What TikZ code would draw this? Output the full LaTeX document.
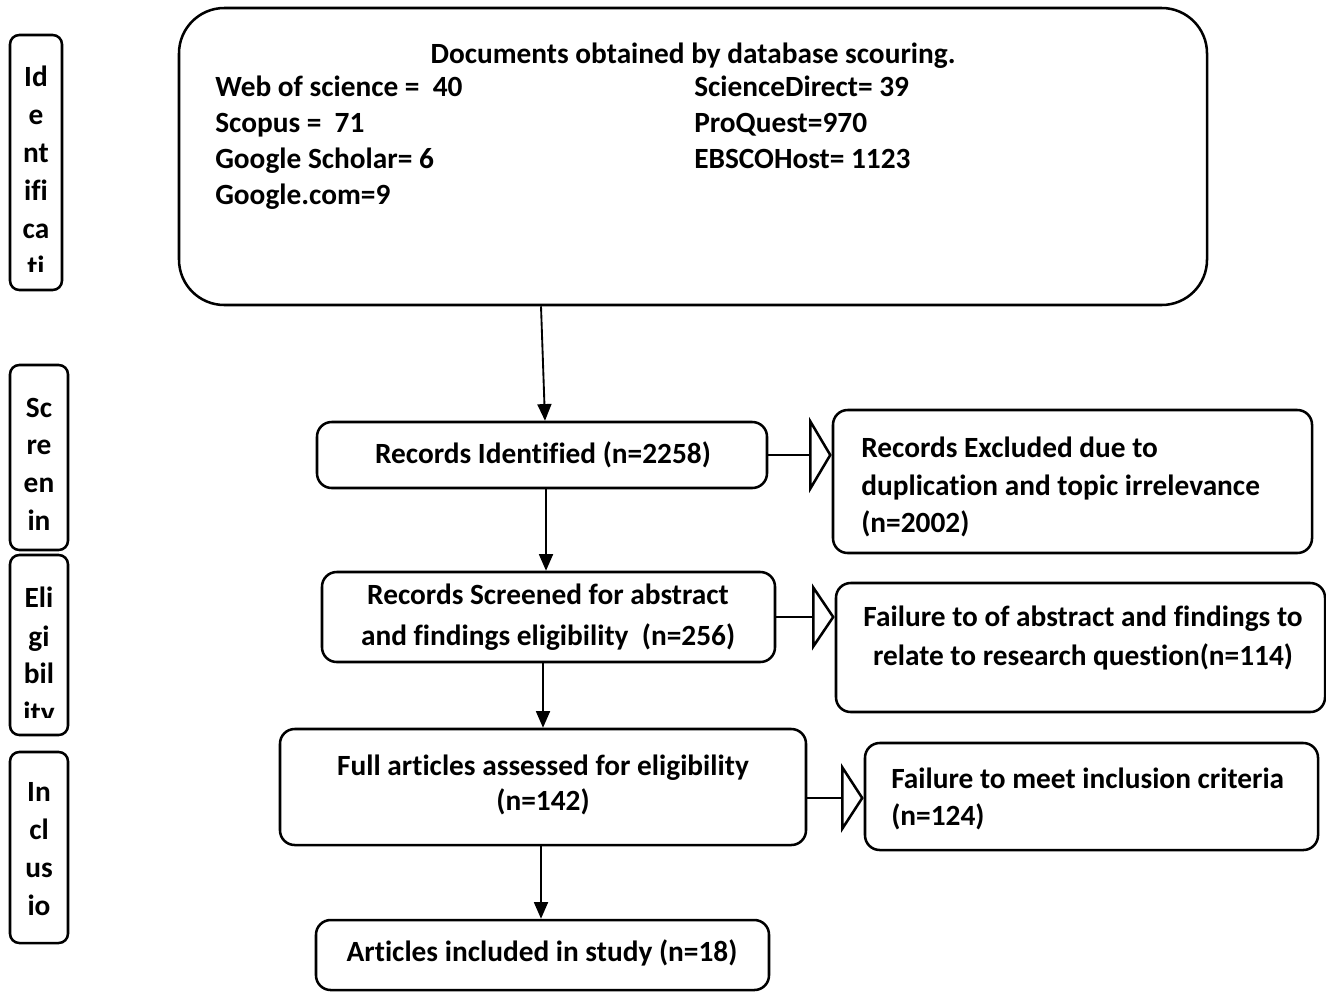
\documentclass[tikz,border=0pt]{standalone}
\usepackage{fontspec}
\setmainfont{Carlito}[Ligatures=NoCommon]
\usetikzlibrary{arrows.meta,fit,calc}
\begin{document}
\begin{tikzpicture}[x=0.75pt,y=-0.75pt,
  box/.style={draw,line width=1.9pt,rounded corners=11pt,inner sep=0pt},
  bigbox/.style={box,rounded corners=34pt},
  side/.style={box,rounded corners=7pt},
  txt/.style={inner sep=0pt,font=\fontsize{22}{#1}\selectfont\bfseries},
  txt/.default=27,
  arr/.style={line width=1.4pt,-{Triangle[length=12.5pt,width=10.5pt]}},
  barr/.style={line width=1.9pt,-{Triangle[open,length=17pt,width=#1]}}
]
\useasboundingbox (0,0) rectangle (1326,993);

% main boxes
\node[bigbox,fit={(179,8) (1207,305)}] (db) {};
\node[box,fit={(317,422) (767,488)}] (ri) {};
\node[box,fit={(322,572) (775,662)}] (rs) {};
\node[box,fit={(280,729) (806,845)}] (fa) {};
\node[box,fit={(316,920) (769,990)}] (ai) {};
\node[box,fit={(833,410) (1312,553)}] (re) {};
\node[box,fit={(836,583) (1325,712)}] (fab) {};
\node[box,fit={(865,743) (1318,850)}] (fi) {};

% texts of the big box
\node[txt] (dbt) at (693,56) {Documents obtained by database scouring.};
\node[txt,align=left] (dbl) at (215,143) [anchor=west] {Web of science =\ \ 40\\Scopus =\ \ 71\\Google Scholar= 6\\Google.com=9};
\node[txt,align=left] (dbr) at (694,122) [anchor=west] {ScienceDirect= 39\\ProQuest=970\\EBSCOHost= 1123};

% texts of the flow boxes
\node[txt] (rit) at (543,455) {Records Identified (n=2258)};
\node[txt=31,align=center] (rst) at (548,617) {Records Screened for abstract\\and findings eligibility\ \ (n=256)};
\node[txt=26.5,align=center] (fat) at (543,785) {Full articles assessed for eligibility\\(n=142)};
\node[txt] (ait) at (542,953) {Articles included in study (n=18)};
\node[txt=28,align=left,anchor=west] (ret) at (861,487) {Records Excluded due to\\duplication and topic irrelevance\\(n=2002)};
\node[txt=29,align=center] (fabt) at (1083,638) {Failure to of abstract and findings to\\relate to research question(n=114)};
\node[txt=28,align=left,anchor=west] (fit) at (891,799) {Failure to meet inclusion criteria\\(n=124)};

% side labels
\node[side,fit={(10,35) (62,290)}] (sid) {};
\node[side,fit={(10,365) (68,550)}] (ssc) {};
\node[side,fit={(10,555) (68,735)}] (sel) {};
\node[side,fit={(10,752) (68,943)}] (sin) {};
\begin{scope}
  \clip (10,35) rectangle (62,271);
  \node[txt=28.5,align=center] (sidt) at (36,171) {Id\\e\\nt\\ifi\\ca\\ti};
\end{scope}
\node[txt=28.2,align=center] (ssct) at (39,464) {Sc\\re\\en\\in};
\begin{scope}
  \clip (10,555) rectangle (68,717);
  \node[txt=28.5,align=center] (selt) at (39,657) {Eli\\gi\\bil\\ity};
\end{scope}
\node[txt=28.5,align=center] (sint) at (39,849) {In\\cl\\us\\io};

% connectors
\draw[arr] (541,0 |- db.south) -- (545,0 |- ri.north);
\draw[arr] (546,0 |- ri.south) -- (546,0 |- rs.north);
\draw[arr] (543,0 |- rs.south) -- (543,0 |- fa.north);
\draw[arr] (541,0 |- fa.south) -- (541,0 |- ai.north);

\draw[barr=57pt] (ri.east) -- (ri.east -| re.west);
\draw[barr=50pt] (0,617 -| rs.east) -- (0,617 -| fab.west);
\draw[barr=52pt] (0,798 -| fa.east) -- (0,798 -| fi.west);
\end{tikzpicture}
\end{document}
